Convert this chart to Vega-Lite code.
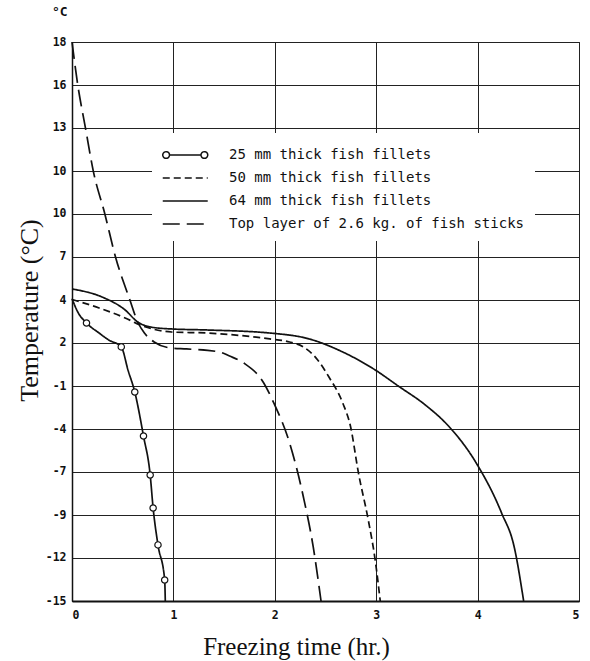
{
  "$schema": "https://vega.github.io/schema/vega-lite/v6.json",
  "width": 507,
  "height": 559,
  "autosize": {"type": "none"},
  "padding": {"left": 72, "top": 42, "right": 11, "bottom": 60},
  "background": "white",
  "config": {"view": {"stroke": "#111", "strokeWidth": 1}},
  "title": {"text": "°C", "anchor": "start", "frame": "group", "dx": -20, "offset": 17, "font": "DejaVu Sans Mono", "fontSize": 13, "fontWeight": "bold", "color": "#111"},
  "datasets": {
    "curves": [
      {"series": "25 mm thick fish fillets", "time_hr": 0, "temp_c": 2.85},
      {"series": "25 mm thick fish fillets", "time_hr": 0.057, "temp_c": 2.06},
      {"series": "25 mm thick fish fillets", "time_hr": 0.143, "temp_c": 1.41},
      {"series": "25 mm thick fish fillets", "time_hr": 0.267, "temp_c": 0.82},
      {"series": "25 mm thick fish fillets", "time_hr": 0.362, "temp_c": 0.41},
      {"series": "25 mm thick fish fillets", "time_hr": 0.486, "temp_c": 0.0},
      {"series": "25 mm thick fish fillets", "time_hr": 0.552, "temp_c": -1.36},
      {"series": "25 mm thick fish fillets", "time_hr": 0.619, "temp_c": -2.66},
      {"series": "25 mm thick fish fillets", "time_hr": 0.705, "temp_c": -5.26},
      {"series": "25 mm thick fish fillets", "time_hr": 0.771, "temp_c": -7.56},
      {"series": "25 mm thick fish fillets", "time_hr": 0.8, "temp_c": -9.51},
      {"series": "25 mm thick fish fillets", "time_hr": 0.848, "temp_c": -11.69},
      {"series": "25 mm thick fish fillets", "time_hr": 0.914, "temp_c": -13.76},
      {"series": "25 mm thick fish fillets", "time_hr": 0.92, "temp_c": -15.0},
      {"series": "50 mm thick fish fillets", "time_hr": 0, "temp_c": 2.8},
      {"series": "50 mm thick fish fillets", "time_hr": 0.267, "temp_c": 2.3},
      {"series": "50 mm thick fish fillets", "time_hr": 0.524, "temp_c": 1.71},
      {"series": "50 mm thick fish fillets", "time_hr": 0.676, "temp_c": 1.29},
      {"series": "50 mm thick fish fillets", "time_hr": 0.981, "temp_c": 0.88},
      {"series": "50 mm thick fish fillets", "time_hr": 1.327, "temp_c": 0.82},
      {"series": "50 mm thick fish fillets", "time_hr": 1.95, "temp_c": 0.47},
      {"series": "50 mm thick fish fillets", "time_hr": 2.146, "temp_c": 0.29},
      {"series": "50 mm thick fish fillets", "time_hr": 2.282, "temp_c": 0.0},
      {"series": "50 mm thick fish fillets", "time_hr": 2.408, "temp_c": -0.66},
      {"series": "50 mm thick fish fillets", "time_hr": 2.534, "temp_c": -1.78},
      {"series": "50 mm thick fish fillets", "time_hr": 2.67, "temp_c": -3.31},
      {"series": "50 mm thick fish fillets", "time_hr": 2.748, "temp_c": -4.73},
      {"series": "50 mm thick fish fillets", "time_hr": 2.825, "temp_c": -7.44},
      {"series": "50 mm thick fish fillets", "time_hr": 2.922, "temp_c": -10.22},
      {"series": "50 mm thick fish fillets", "time_hr": 2.99, "temp_c": -12.58},
      {"series": "50 mm thick fish fillets", "time_hr": 3.04, "temp_c": -15.0},
      {"series": "64 mm thick fish fillets", "time_hr": 0, "temp_c": 3.42},
      {"series": "64 mm thick fish fillets", "time_hr": 0.295, "temp_c": 2.95},
      {"series": "64 mm thick fish fillets", "time_hr": 0.524, "temp_c": 2.18},
      {"series": "64 mm thick fish fillets", "time_hr": 0.648, "temp_c": 1.47},
      {"series": "64 mm thick fish fillets", "time_hr": 0.771, "temp_c": 1.18},
      {"series": "64 mm thick fish fillets", "time_hr": 0.981, "temp_c": 1.06},
      {"series": "64 mm thick fish fillets", "time_hr": 1.327, "temp_c": 1.0},
      {"series": "64 mm thick fish fillets", "time_hr": 1.95, "temp_c": 0.82},
      {"series": "64 mm thick fish fillets", "time_hr": 2.34, "temp_c": 0.47},
      {"series": "64 mm thick fish fillets", "time_hr": 2.67, "temp_c": -0.3},
      {"series": "64 mm thick fish fillets", "time_hr": 2.99, "temp_c": -1.36},
      {"series": "64 mm thick fish fillets", "time_hr": 3.218, "temp_c": -2.31},
      {"series": "64 mm thick fish fillets", "time_hr": 3.485, "temp_c": -3.43},
      {"series": "64 mm thick fish fillets", "time_hr": 3.713, "temp_c": -4.67},
      {"series": "64 mm thick fish fillets", "time_hr": 3.98, "temp_c": -6.79},
      {"series": "64 mm thick fish fillets", "time_hr": 4.237, "temp_c": -9.81},
      {"series": "64 mm thick fish fillets", "time_hr": 4.361, "temp_c": -11.81},
      {"series": "64 mm thick fish fillets", "time_hr": 4.454, "temp_c": -15.0},
      {"series": "Top layer of 2.6 kg. of fish sticks", "time_hr": 0, "temp_c": 18.0},
      {"series": "Top layer of 2.6 kg. of fish sticks", "time_hr": 0.057, "temp_c": 15.46},
      {"series": "Top layer of 2.6 kg. of fish sticks", "time_hr": 0.133, "temp_c": 12.92},
      {"series": "Top layer of 2.6 kg. of fish sticks", "time_hr": 0.21, "temp_c": 10.38},
      {"series": "Top layer of 2.6 kg. of fish sticks", "time_hr": 0.324, "temp_c": 7.85},
      {"series": "Top layer of 2.6 kg. of fish sticks", "time_hr": 0.429, "temp_c": 5.31},
      {"series": "Top layer of 2.6 kg. of fish sticks", "time_hr": 0.571, "temp_c": 2.77},
      {"series": "Top layer of 2.6 kg. of fish sticks", "time_hr": 0.648, "temp_c": 1.47},
      {"series": "Top layer of 2.6 kg. of fish sticks", "time_hr": 0.714, "temp_c": 0.82},
      {"series": "Top layer of 2.6 kg. of fish sticks", "time_hr": 0.81, "temp_c": 0.29},
      {"series": "Top layer of 2.6 kg. of fish sticks", "time_hr": 0.981, "temp_c": -0.07},
      {"series": "Top layer of 2.6 kg. of fish sticks", "time_hr": 1.129, "temp_c": -0.12},
      {"series": "Top layer of 2.6 kg. of fish sticks", "time_hr": 1.455, "temp_c": -0.3},
      {"series": "Top layer of 2.6 kg. of fish sticks", "time_hr": 1.554, "temp_c": -0.54},
      {"series": "Top layer of 2.6 kg. of fish sticks", "time_hr": 1.693, "temp_c": -0.95},
      {"series": "Top layer of 2.6 kg. of fish sticks", "time_hr": 1.891, "temp_c": -2.13},
      {"series": "Top layer of 2.6 kg. of fish sticks", "time_hr": 1.99, "temp_c": -3.31},
      {"series": "Top layer of 2.6 kg. of fish sticks", "time_hr": 2.146, "temp_c": -5.67},
      {"series": "Top layer of 2.6 kg. of fish sticks", "time_hr": 2.282, "temp_c": -8.86},
      {"series": "Top layer of 2.6 kg. of fish sticks", "time_hr": 2.379, "temp_c": -11.81},
      {"series": "Top layer of 2.6 kg. of fish sticks", "time_hr": 2.456, "temp_c": -15.0}
    ],
    "measured": [
      {"series": "25 mm thick fish fillets", "time_hr": 0.143, "temp_c": 1.41},
      {"series": "25 mm thick fish fillets", "time_hr": 0.486, "temp_c": 0.0},
      {"series": "25 mm thick fish fillets", "time_hr": 0.619, "temp_c": -2.66},
      {"series": "25 mm thick fish fillets", "time_hr": 0.705, "temp_c": -5.26},
      {"series": "25 mm thick fish fillets", "time_hr": 0.771, "temp_c": -7.56},
      {"series": "25 mm thick fish fillets", "time_hr": 0.8, "temp_c": -9.51},
      {"series": "25 mm thick fish fillets", "time_hr": 0.848, "temp_c": -11.69},
      {"series": "25 mm thick fish fillets", "time_hr": 0.914, "temp_c": -13.76}
    ]
  },
  "layer": [
    {
      "data": {"name": "curves"},
      "mark": {"type": "line", "interpolate": "monotone", "color": "#111", "strokeWidth": 1.7},
      "encoding": {
        "x": {
          "field": "time_hr", "type": "quantitative",
          "scale": {"domain": [0, 5], "nice": false, "zero": false},
          "axis": {
            "values": [0, 1, 2, 3, 4, 5], "format": "d",
            "title": "Freezing time (hr.)", "titleFont": "Liberation Serif", "titleFontSize": 25, "titleFontWeight": "normal", "titleColor": "#111",
            "titleX": 224, "titleY": 53, "titleBaseline": "alphabetic", "titleAlign": "center",
            "labelFont": "DejaVu Sans Mono", "labelFontSize": 11.5, "labelFontWeight": "bold", "labelColor": "#111", "labelPadding": 8,
            "ticks": false, "grid": true, "gridColor": "#222", "gridWidth": 1, "gridOpacity": 1,
            "domainColor": "#111", "domainWidth": 2
          }
        },
        "y": {
          "field": "temp_c", "type": "quantitative",
          "scale": {"domain": [-15, 18], "nice": false, "zero": false},
          "axis": {
            "values": [-15, -12.4615, -9.9231, -7.3846, -4.8462, -2.3077, 0.2308, 2.7692, 5.3077, 7.8462, 10.3846, 12.9231, 15.4615, 18],
            "labelExpr": "['-15','-12','-9','-7','-4','-1','2','4','7','10','10','13','16','18'][round((datum.value + 15) * 13 / 33)]",
            "title": "Temperature (°C)", "titleFont": "Liberation Serif", "titleFontSize": 26, "titleFontWeight": "normal", "titleColor": "#111",
            "titleAngle": -90, "titleX": -35, "titleY": 268, "titleBaseline": "alphabetic", "titleAlign": "center",
            "labelFont": "DejaVu Sans Mono", "labelFontSize": 11.5, "labelFontWeight": "bold", "labelColor": "#111", "labelPadding": 6,
            "ticks": false, "grid": true, "gridColor": "#222", "gridWidth": 1, "gridOpacity": 1,
            "domainColor": "#111", "domainWidth": 1.5
          }
        },
        "strokeDash": {
          "field": "series", "type": "nominal",
          "scale": {
            "domain": ["25 mm thick fish fillets", "50 mm thick fish fillets", "64 mm thick fish fillets", "Top layer of 2.6 kg. of fish sticks"],
            "range": [[1, 0], [7, 4], [1, 0], [17, 7]]
          },
          "legend": {
            "title": null, "orient": "none", "legendX": 80, "legendY": 91, "padding": 10,
            "fillColor": "white", "strokeColor": null, "rowPadding": 4,
            "symbolType": "M-1,0L3,0", "symbolSize": 506, "symbolStrokeWidth": 1.5, "symbolStrokeColor": "#111", "symbolFillColor": "white",
            "labelFont": "DejaVu Sans Mono", "labelFontSize": 14, "labelColor": "#111", "labelOffset": 43, "labelLimit": 400,
            "encode": {
              "symbols": {
                "update": {
                  "shape": {"signal": "datum.value === '25 mm thick fish fillets' ? 'M-1,0A0.3,0.3 0 1,1 -0.4,0A0.3,0.3 0 1,1 -1,0M-0.4,0L2.4,0M2.4,0A0.3,0.3 0 1,1 3,0A0.3,0.3 0 1,1 2.4,0' : 'M-1,0L3,0'"}
                }
              }
            }
          }
        }
      }
    },
    {
      "data": {"name": "measured"},
      "mark": {"type": "point", "filled": true, "fill": "white", "stroke": "#111", "strokeWidth": 1.2, "size": 40, "opacity": 1},
      "encoding": {
        "x": {"field": "time_hr", "type": "quantitative"},
        "y": {"field": "temp_c", "type": "quantitative"}
      }
    }
  ]
}
